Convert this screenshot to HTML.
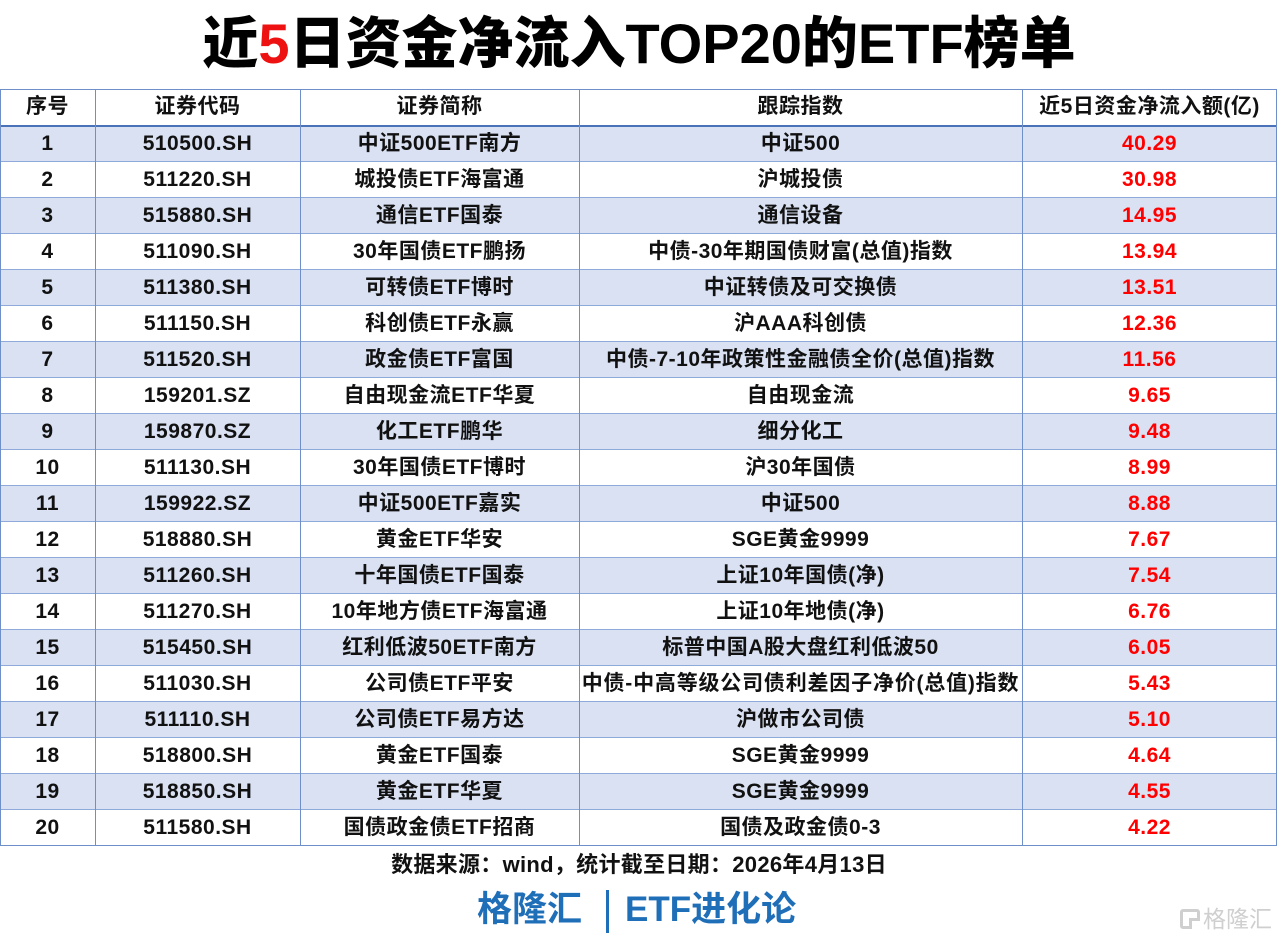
<!DOCTYPE html>
<html>
<head>
<meta charset="utf-8">
<style>
*{margin:0;padding:0;box-sizing:border-box}
html,body{width:1278px;height:941px;background:#fff;overflow:hidden}
body{position:relative;font-family:"Liberation Sans","Noto Sans CJK SC",sans-serif;color:#111}
.title{position:absolute;left:0;top:0;width:1278px;height:88px;line-height:88px;text-align:center;font-size:56px;font-weight:900;white-space:nowrap;color:#000}
.title .r{color:#ee1111}
.bg{position:absolute;left:0;width:1277px;height:36px;background:#d9e1f2}
.h{position:absolute;left:0;width:1277px;height:1px;background:#8eaadb}
.v{position:absolute;top:89px;width:1px;height:757px;background:#6f8fcb}
.row{position:absolute;left:0;width:1277px;height:36px;display:flex;font-size:21px;font-weight:bold;line-height:36px;letter-spacing:0.5px;white-space:nowrap}
.row div{text-align:center;overflow:visible}
.c1{width:95px}.c2{width:205px}.c3{width:279px}.c4{width:443px}.c5{width:255px}
.red{color:#ff0000}
.note{position:absolute;left:0;top:849px;width:1278px;height:32px;line-height:32px;text-align:center;font-size:22px;font-weight:bold;letter-spacing:0.3px;color:#111}
.brand{position:absolute;top:888px;height:44px;line-height:44px;font-size:35px;font-weight:bold;color:#1f6eb8;white-space:nowrap}
.bar{position:absolute;left:606px;top:890px;width:3px;height:43px;background:#1f6eb8}
.wm{position:absolute;left:1203px;top:905px;height:28px;line-height:28px;font-size:23px;color:#cfcfcf;letter-spacing:0px;white-space:nowrap}
.wmg{position:absolute;left:1180px;top:909px;width:20px;height:20px;border:3px solid #cfcfcf;border-radius:3px}
.wmg:after{content:"";position:absolute;left:6px;top:6px;width:8px;height:8px;border-left:3px solid #cfcfcf;border-top:3px solid #cfcfcf;background:#fff}
</style>
</head>
<body>
<div class="title">近<span class="r">5</span>日资金净流入TOP20的ETF榜单</div>

<div class="bg" style="top:126px"></div>
<div class="bg" style="top:198px"></div>
<div class="bg" style="top:270px"></div>
<div class="bg" style="top:342px"></div>
<div class="bg" style="top:414px"></div>
<div class="bg" style="top:486px"></div>
<div class="bg" style="top:558px"></div>
<div class="bg" style="top:630px"></div>
<div class="bg" style="top:702px"></div>
<div class="bg" style="top:774px"></div>

<div class="h" style="top:89px;background:#6f8fcb"></div>
<div class="h" style="top:125px;height:2px;background:#4a72b8"></div>
<div class="h" style="top:161px"></div>
<div class="h" style="top:197px"></div>
<div class="h" style="top:233px"></div>
<div class="h" style="top:269px"></div>
<div class="h" style="top:305px"></div>
<div class="h" style="top:341px"></div>
<div class="h" style="top:377px"></div>
<div class="h" style="top:413px"></div>
<div class="h" style="top:449px"></div>
<div class="h" style="top:485px"></div>
<div class="h" style="top:521px"></div>
<div class="h" style="top:557px"></div>
<div class="h" style="top:593px"></div>
<div class="h" style="top:629px"></div>
<div class="h" style="top:665px"></div>
<div class="h" style="top:701px"></div>
<div class="h" style="top:737px"></div>
<div class="h" style="top:773px"></div>
<div class="h" style="top:809px"></div>
<div class="h" style="top:845px;background:#6f8fcb"></div>

<div class="v" style="left:0px"></div>
<div class="v" style="left:95px"></div>
<div class="v" style="left:300px"></div>
<div class="v" style="left:579px"></div>
<div class="v" style="left:1022px"></div>
<div class="v" style="left:1276px"></div>

<div class="row" style="top:89px"><div class="c1">序号</div><div class="c2">证券代码</div><div class="c3">证券简称</div><div class="c4">跟踪指数</div><div class="c5">近5日资金净流入额(亿)</div></div>

<div class="row" style="top:126px"><div class="c1">1</div><div class="c2">510500.SH</div><div class="c3">中证500ETF南方</div><div class="c4">中证500</div><div class="c5 red">40.29</div></div>
<div class="row" style="top:162px"><div class="c1">2</div><div class="c2">511220.SH</div><div class="c3">城投债ETF海富通</div><div class="c4">沪城投债</div><div class="c5 red">30.98</div></div>
<div class="row" style="top:198px"><div class="c1">3</div><div class="c2">515880.SH</div><div class="c3">通信ETF国泰</div><div class="c4">通信设备</div><div class="c5 red">14.95</div></div>
<div class="row" style="top:234px"><div class="c1">4</div><div class="c2">511090.SH</div><div class="c3">30年国债ETF鹏扬</div><div class="c4">中债-30年期国债财富(总值)指数</div><div class="c5 red">13.94</div></div>
<div class="row" style="top:270px"><div class="c1">5</div><div class="c2">511380.SH</div><div class="c3">可转债ETF博时</div><div class="c4">中证转债及可交换债</div><div class="c5 red">13.51</div></div>
<div class="row" style="top:306px"><div class="c1">6</div><div class="c2">511150.SH</div><div class="c3">科创债ETF永赢</div><div class="c4">沪AAA科创债</div><div class="c5 red">12.36</div></div>
<div class="row" style="top:342px"><div class="c1">7</div><div class="c2">511520.SH</div><div class="c3">政金债ETF富国</div><div class="c4">中债-7-10年政策性金融债全价(总值)指数</div><div class="c5 red">11.56</div></div>
<div class="row" style="top:378px"><div class="c1">8</div><div class="c2">159201.SZ</div><div class="c3">自由现金流ETF华夏</div><div class="c4">自由现金流</div><div class="c5 red">9.65</div></div>
<div class="row" style="top:414px"><div class="c1">9</div><div class="c2">159870.SZ</div><div class="c3">化工ETF鹏华</div><div class="c4">细分化工</div><div class="c5 red">9.48</div></div>
<div class="row" style="top:450px"><div class="c1">10</div><div class="c2">511130.SH</div><div class="c3">30年国债ETF博时</div><div class="c4">沪30年国债</div><div class="c5 red">8.99</div></div>
<div class="row" style="top:486px"><div class="c1">11</div><div class="c2">159922.SZ</div><div class="c3">中证500ETF嘉实</div><div class="c4">中证500</div><div class="c5 red">8.88</div></div>
<div class="row" style="top:522px"><div class="c1">12</div><div class="c2">518880.SH</div><div class="c3">黄金ETF华安</div><div class="c4">SGE黄金9999</div><div class="c5 red">7.67</div></div>
<div class="row" style="top:558px"><div class="c1">13</div><div class="c2">511260.SH</div><div class="c3">十年国债ETF国泰</div><div class="c4">上证10年国债(净)</div><div class="c5 red">7.54</div></div>
<div class="row" style="top:594px"><div class="c1">14</div><div class="c2">511270.SH</div><div class="c3">10年地方债ETF海富通</div><div class="c4">上证10年地债(净)</div><div class="c5 red">6.76</div></div>
<div class="row" style="top:630px"><div class="c1">15</div><div class="c2">515450.SH</div><div class="c3">红利低波50ETF南方</div><div class="c4">标普中国A股大盘红利低波50</div><div class="c5 red">6.05</div></div>
<div class="row" style="top:666px"><div class="c1">16</div><div class="c2">511030.SH</div><div class="c3">公司债ETF平安</div><div class="c4" style="letter-spacing:0.8px">中债-中高等级公司债利差因子净价(总值)指数</div><div class="c5 red">5.43</div></div>
<div class="row" style="top:702px"><div class="c1">17</div><div class="c2">511110.SH</div><div class="c3">公司债ETF易方达</div><div class="c4">沪做市公司债</div><div class="c5 red">5.10</div></div>
<div class="row" style="top:738px"><div class="c1">18</div><div class="c2">518800.SH</div><div class="c3">黄金ETF国泰</div><div class="c4">SGE黄金9999</div><div class="c5 red">4.64</div></div>
<div class="row" style="top:774px"><div class="c1">19</div><div class="c2">518850.SH</div><div class="c3">黄金ETF华夏</div><div class="c4">SGE黄金9999</div><div class="c5 red">4.55</div></div>
<div class="row" style="top:810px"><div class="c1">20</div><div class="c2">511580.SH</div><div class="c3">国债政金债ETF招商</div><div class="c4">国债及政金债0-3</div><div class="c5 red">4.22</div></div>

<div class="note">数据来源：wind，统计截至日期：2026年4月13日</div>

<div class="brand" style="left:477px">格隆汇</div>
<div class="bar"></div>
<div class="brand" style="left:625px">ETF进化论</div>

<div class="wmg"></div>
<div class="wm">格隆汇</div>
</body>
</html>
